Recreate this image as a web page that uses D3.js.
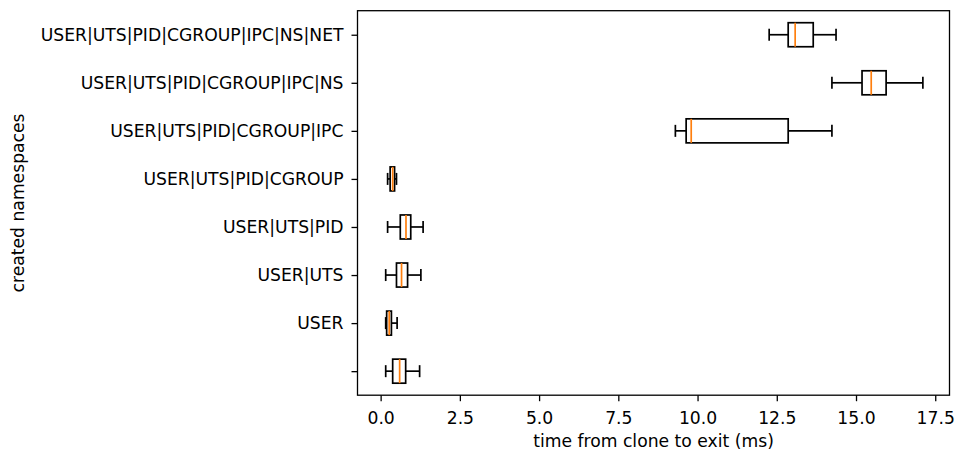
<!DOCTYPE html>
<html>
<head>
<meta charset="utf-8">
<script src="https://cdn.jsdelivr.net/npm/d3@7"></script>
<style>
  body { margin: 0; background: #fff; }
  svg { font-family: 'DejaVu Sans', sans-serif; }
</style>
</head>
<body>
<svg id="chart" width="957" height="454"></svg>
<script>
// Namespace combinations, bottom to top
const categories = ['', 'USER', 'USER|UTS', 'USER|UTS|PID', 'USER|UTS|PID|CGROUP',
  'USER|UTS|PID|CGROUP|IPC', 'USER|UTS|PID|CGROUP|IPC|NS', 'USER|UTS|PID|CGROUP|IPC|NS|NET'];

// Box stats (ms)
const whiskerLow = [0.16, 0.16, 0.16, 0.22, 0.22, 9.30, 14.24, 12.26];
const q1 =         [0.38, 0.19, 0.50, 0.62, 0.30, 9.64, 15.19, 12.86];
const median =     [0.60, 0.27, 0.66, 0.80, 0.38, 9.80, 15.48, 13.08];
const q3 =         [0.79, 0.34, 0.85, 0.95, 0.44, 12.86, 15.95, 13.65];
const whiskerHigh = [1.23, 0.52, 1.27, 1.34, 0.50, 14.24, 17.11, 14.37];

const xTicks = [0, 2.5, 5, 7.5, 10, 12.5, 15, 17.5];

const fontSize = 17.2;
const ink = '#000';

const svg = d3.select('#chart');
const margin = { left: 357.5, right: 957 - 949.5, top: 10.7, bottom: 454 - 395.2 };
const width = 957 - margin.left - margin.right;
const height = 454 - margin.top - margin.bottom;

const x = d3.scaleLinear().domain([-0.73, 17.95]).range([0, width]);
const y = d3.scaleLinear().domain([0.5, categories.length + 0.5]).range([height, 0]);

const g = svg.append('g').attr('transform', `translate(${margin.left},${margin.top})`);

// Axes
const xAxis = g.append('g')
  .attr('transform', `translate(0,${height})`)
  .call(d3.axisBottom(x).tickValues(xTicks).tickFormat(d3.format('.1f'))
    .tickSizeOuter(0).tickSize(6).tickPadding(10.5));
const yAxis = g.append('g')
  .call(d3.axisLeft(y).tickValues(d3.range(1, categories.length + 1))
    .tickFormat(i => categories[i - 1]).tickSizeOuter(0).tickSize(6).tickPadding(8));

[xAxis, yAxis].forEach(a => {
  a.selectAll('text').attr('font-size', fontSize).attr('fill', ink)
    .attr('font-family', "'DejaVu Sans', sans-serif");
  a.selectAll('line').attr('stroke', ink).attr('stroke-width', 1.3);
  a.select('.domain').remove();
});

// Frame
g.append('rect')
  .attr('width', width).attr('height', height)
  .attr('fill', 'none').attr('stroke', ink).attr('stroke-width', 1.3);

// Boxes
const boxH = y(0) - y(0.5);
const capH = boxH / 2;
const rows = categories.map((c, i) => ({
  pos: i + 1, lo: whiskerLow[i], q1: q1[i], med: median[i], q3: q3[i], hi: whiskerHigh[i]
}));

const box = g.append('g').selectAll('g').data(rows).join('g')
  .attr('fill', 'none').attr('stroke-width', 1.7);

box.append('line').attr('stroke', ink)
  .attr('x1', d => x(d.lo)).attr('x2', d => x(d.q1))
  .attr('y1', d => y(d.pos)).attr('y2', d => y(d.pos));
box.append('line').attr('stroke', ink)
  .attr('x1', d => x(d.q3)).attr('x2', d => x(d.hi))
  .attr('y1', d => y(d.pos)).attr('y2', d => y(d.pos));
box.append('line').attr('stroke', ink)
  .attr('x1', d => x(d.lo)).attr('x2', d => x(d.lo))
  .attr('y1', d => y(d.pos) - capH / 2).attr('y2', d => y(d.pos) + capH / 2);
box.append('line').attr('stroke', ink)
  .attr('x1', d => x(d.hi)).attr('x2', d => x(d.hi))
  .attr('y1', d => y(d.pos) - capH / 2).attr('y2', d => y(d.pos) + capH / 2);
box.append('rect').attr('stroke', ink)
  .attr('x', d => x(d.q1)).attr('width', d => x(d.q3) - x(d.q1))
  .attr('y', d => y(d.pos) - boxH / 2).attr('height', boxH);
box.append('line').attr('stroke', '#ff7f0e')
  .attr('x1', d => x(d.med)).attr('x2', d => x(d.med))
  .attr('y1', d => y(d.pos) - boxH / 2).attr('y2', d => y(d.pos) + boxH / 2);

// Axis labels
svg.append('text')
  .attr('x', margin.left + width / 2).attr('y', 446.5)
  .attr('text-anchor', 'middle').attr('font-size', fontSize).attr('fill', ink)
  .text('time from clone to exit (ms)');
svg.append('text')
  .attr('transform', `translate(23.5,${margin.top + height / 2}) rotate(-90)`)
  .attr('text-anchor', 'middle').attr('font-size', fontSize).attr('fill', ink)
  .text('created namespaces');
</script>
</body>
</html>
